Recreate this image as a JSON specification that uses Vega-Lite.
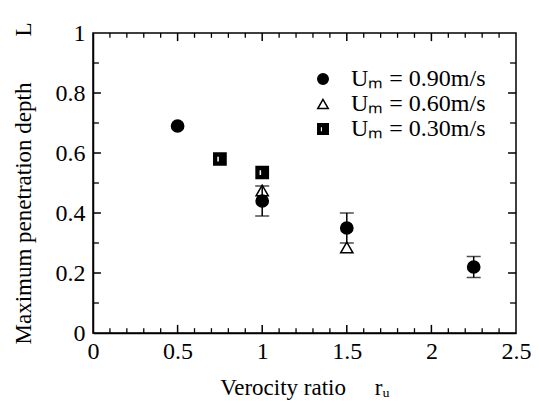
{
  "$schema": "https://vega.github.io/schema/vega-lite/v6.json",
  "width": 423,
  "height": 300,
  "autosize": {"type": "none"},
  "padding": {"left": 93, "top": 33, "right": 23, "bottom": 78},
  "background": "white",
  "config": {
    "view": {"stroke": "black", "strokeWidth": 1.5},
    "font": "Liberation Serif",
    "axis": {
      "domainColor": "black", "domainWidth": 1.5,
      "labelColor": "black", "titleColor": "black",
      "labelFont": "Liberation Serif", "titleFont": "Liberation Serif",
      "labelFontSize": 24, "titleFontSize": 23, "titleFontWeight": "normal",
      "grid": false, "labelFlush": false, "labelOverlap": false, "labelBound": false
    },
    "legend": {
      "labelFont": "Liberation Serif", "labelColor": "black"
    }
  },
  "datasets": {
    "points": [
      {"series": "0.90", "r": 0.5, "L": 0.69, "lo": null, "hi": null},
      {"series": "0.90", "r": 1.0, "L": 0.44, "lo": 0.39, "hi": 0.49},
      {"series": "0.90", "r": 1.5, "L": 0.35, "lo": 0.30, "hi": 0.40},
      {"series": "0.90", "r": 2.25, "L": 0.22, "lo": 0.185, "hi": 0.255},
      {"series": "0.60", "r": 1.0, "L": 0.475, "lo": null, "hi": null},
      {"series": "0.60", "r": 1.5, "L": 0.285, "lo": null, "hi": null},
      {"series": "0.30", "r": 0.75, "L": 0.58, "lo": null, "hi": null},
      {"series": "0.30", "r": 1.0, "L": 0.535, "lo": null, "hi": null}
    ],
    "xmajor": [{"v": 0.5}, {"v": 1}, {"v": 1.5}, {"v": 2}],
    "xminor": [{"v": 0.1}, {"v": 0.2}, {"v": 0.3}, {"v": 0.4}, {"v": 0.6}, {"v": 0.7}, {"v": 0.8}, {"v": 0.9},
               {"v": 1.1}, {"v": 1.2}, {"v": 1.3}, {"v": 1.4}, {"v": 1.6}, {"v": 1.7}, {"v": 1.8}, {"v": 1.9},
               {"v": 2.1}, {"v": 2.2}, {"v": 2.3}, {"v": 2.4}],
    "ymajor": [{"v": 0.2}, {"v": 0.4}, {"v": 0.6}, {"v": 0.8}],
    "yminor": [{"v": 0.1}, {"v": 0.3}, {"v": 0.5}, {"v": 0.7}, {"v": 0.9}]
  },
  "layer": [
    {
      "data": {"name": "xmajor"},
      "mark": {"type": "rule", "color": "black", "strokeWidth": 1.5},
      "encoding": {"x": {"field": "v", "type": "quantitative"}, "y": {"datum": 0, "type": "quantitative"}, "y2": {"datum": 0.027}}
    },
    {
      "data": {"name": "xmajor"},
      "mark": {"type": "rule", "color": "black", "strokeWidth": 1.5},
      "encoding": {"x": {"field": "v", "type": "quantitative"}, "y": {"datum": 1, "type": "quantitative"}, "y2": {"datum": 0.973}}
    },
    {
      "data": {"name": "xminor"},
      "mark": {"type": "rule", "color": "black", "strokeWidth": 1.3},
      "encoding": {"x": {"field": "v", "type": "quantitative"}, "y": {"datum": 0, "type": "quantitative"}, "y2": {"datum": 0.016}}
    },
    {
      "data": {"name": "xminor"},
      "mark": {"type": "rule", "color": "black", "strokeWidth": 1.3},
      "encoding": {"x": {"field": "v", "type": "quantitative"}, "y": {"datum": 1, "type": "quantitative"}, "y2": {"datum": 0.984}}
    },
    {
      "data": {"name": "ymajor"},
      "mark": {"type": "rule", "color": "black", "strokeWidth": 1.5},
      "encoding": {"y": {"field": "v", "type": "quantitative"}, "x": {"datum": 0, "type": "quantitative"}, "x2": {"datum": 0.047}}
    },
    {
      "data": {"name": "ymajor"},
      "mark": {"type": "rule", "color": "black", "strokeWidth": 1.5},
      "encoding": {"y": {"field": "v", "type": "quantitative"}, "x": {"datum": 2.5, "type": "quantitative"}, "x2": {"datum": 2.453}}
    },
    {
      "data": {"name": "yminor"},
      "mark": {"type": "rule", "color": "black", "strokeWidth": 1.3},
      "encoding": {"y": {"field": "v", "type": "quantitative"}, "x": {"datum": 0, "type": "quantitative"}, "x2": {"datum": 0.035}}
    },
    {
      "data": {"name": "yminor"},
      "mark": {"type": "rule", "color": "black", "strokeWidth": 1.3},
      "encoding": {"y": {"field": "v", "type": "quantitative"}, "x": {"datum": 2.5, "type": "quantitative"}, "x2": {"datum": 2.465}}
    },
    {
      "data": {"name": "points"},
      "transform": [{"filter": "datum.lo != null"}],
      "mark": {"type": "rule", "color": "black", "strokeWidth": 1.5},
      "encoding": {
        "x": {"field": "r", "type": "quantitative"},
        "y": {"field": "lo", "type": "quantitative"},
        "y2": {"field": "hi"}
      }
    },
    {
      "data": {"name": "points"},
      "transform": [{"filter": "datum.lo != null"}],
      "mark": {"type": "tick", "orient": "horizontal", "color": "black", "size": 14, "thickness": 1.5},
      "encoding": {
        "x": {"field": "r", "type": "quantitative"},
        "y": {"field": "lo", "type": "quantitative"}
      }
    },
    {
      "data": {"name": "points"},
      "transform": [{"filter": "datum.lo != null"}],
      "mark": {"type": "tick", "orient": "horizontal", "color": "black", "size": 14, "thickness": 1.5},
      "encoding": {
        "x": {"field": "r", "type": "quantitative"},
        "y": {"field": "hi", "type": "quantitative"}
      }
    },
    {
      "data": {"name": "points"},
      "mark": {"type": "point", "filled": true, "stroke": "black", "strokeWidth": 1.5, "size": 150, "opacity": 1},
      "encoding": {
        "x": {
          "field": "r", "type": "quantitative",
          "scale": {"domain": [0, 2.5], "nice": false, "zero": false},
          "axis": {
            "orient": "bottom",
            "title": "Verocity ratio\u2003 r\u1d64",
            "titlePadding": 13,
            "values": [0, 0.5, 1, 1.5, 2, 2.5],
            "format": "~g",
            "ticks": false,
            "tickSize": 0,
            "labelPadding": 6
          }
        },
        "y": {
          "field": "L", "type": "quantitative",
          "scale": {"domain": [0, 1], "nice": false, "zero": false},
          "axis": {
            "orient": "left",
            "title": "Maximum penetration depth\u2003\u2003L",
            "titlePadding": 20,
            "values": [0, 0.2, 0.4, 0.6, 0.8, 1],
            "format": "~g",
            "ticks": false,
            "tickSize": 0,
            "labelPadding": 8
          }
        },
        "shape": {
          "field": "series", "type": "nominal",
          "scale": {"domain": ["0.90", "0.60", "0.30"], "range": ["circle", "triangle-up", "M-1,-1H1V1H-1Z M-0.55,-0.5V0.55H-0.05V-0.5Z"]},
          "legend": {
            "title": null,
            "orient": "none",
            "legendX": 218,
            "legendY": 34,
            "labelExpr": "'U\u2098 = ' + datum.label + 'm/s'",
            "labelFontSize": 24,
            "labelOffset": 16,
            "symbolSize": 110,
            "symbolStrokeWidth": 1.5,
            "rowPadding": 1,
            "padding": 0,
            "encode": {"symbols": {"update": {"stroke": {"value": "black"}, "strokeWidth": {"value": 1.5}}}}
          }
        },
        "fill": {
          "field": "series", "type": "nominal",
          "scale": {"domain": ["0.90", "0.60", "0.30"], "range": ["black", "transparent", "black"]},
          "legend": null
        }
      }
    }
  ]
}
